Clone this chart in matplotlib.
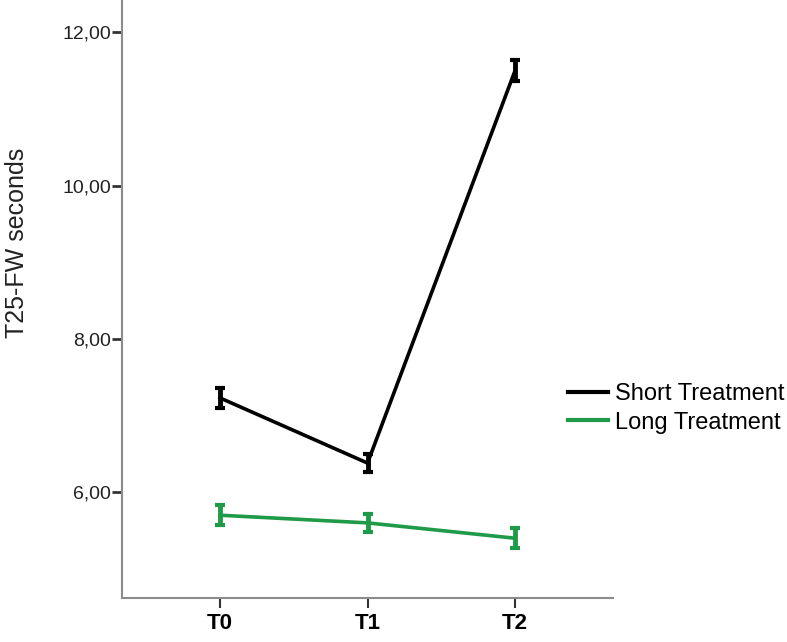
import matplotlib
matplotlib.use("Agg")
import matplotlib.pyplot as plt
from matplotlib.lines import Line2D
import numpy as np

times = ["T0", "T1", "T2"]
short_mean = [7.23, 6.38, 11.50]
short_err = [0.13, 0.12, 0.14]
long_mean = [5.70, 5.60, 5.40]
long_err = [0.13, 0.12, 0.13]
yticks = [6, 8, 10, 12]
ytick_labels = ["6,00", "8,00", "10,00", "12,00"]

plt.rcParams['font.family'] = ['Liberation Sans', 'DejaVu Sans']

fig = plt.figure(figsize=(7.87, 6.42), dpi=100)
ax = fig.add_axes([0.155, 0.0685, 0.624, 0.9315])

green = "#1f9a48"
x = np.arange(len(times))
ax.errorbar(x, short_mean, yerr=short_err, color="black", lw=2.6,
            elinewidth=3.5, capsize=3.5, capthick=3)
ax.errorbar(x, long_mean, yerr=long_err, color=green, lw=2.6,
            elinewidth=3.5, capsize=3.5, capthick=3)

ax.set_xlim(-0.664, 2.664)
ax.set_ylim(4.62, 12.42)
ax.set_xticks(x)
ax.set_xticklabels(times, fontsize=16, fontweight="bold")
ax.set_yticks(yticks)
ax.set_yticklabels(ytick_labels, fontsize=14, color="#222222")
ax.set_ylabel("T25-FW seconds", fontsize=18, color="#222222")
ax.yaxis.set_label_coords(-0.19, 0.594)

for s in ["top", "right"]:
    ax.spines[s].set_visible(False)
for s in ["left", "bottom"]:
    ax.spines[s].set_color("#8c8c8c")
    ax.spines[s].set_linewidth(1.5)
ax.tick_params(axis="y", length=7, width=2, color="#333333", pad=1)
ax.tick_params(axis="x", length=7, width=1.5, color="#333333", pad=4)

handles = [Line2D([], [], color="black", lw=3),
           Line2D([], [], color=green, lw=3)]
fig.legend(handles, ["Short Treatment", "Long Treatment"],
           loc="center left", bbox_to_anchor=(0.722, 0.364), frameon=False,
           fontsize=17, handlelength=1.7, handletextpad=0.3,
           labelspacing=0.28, borderpad=0, borderaxespad=0)

fig.savefig("out.png", dpi=100)
